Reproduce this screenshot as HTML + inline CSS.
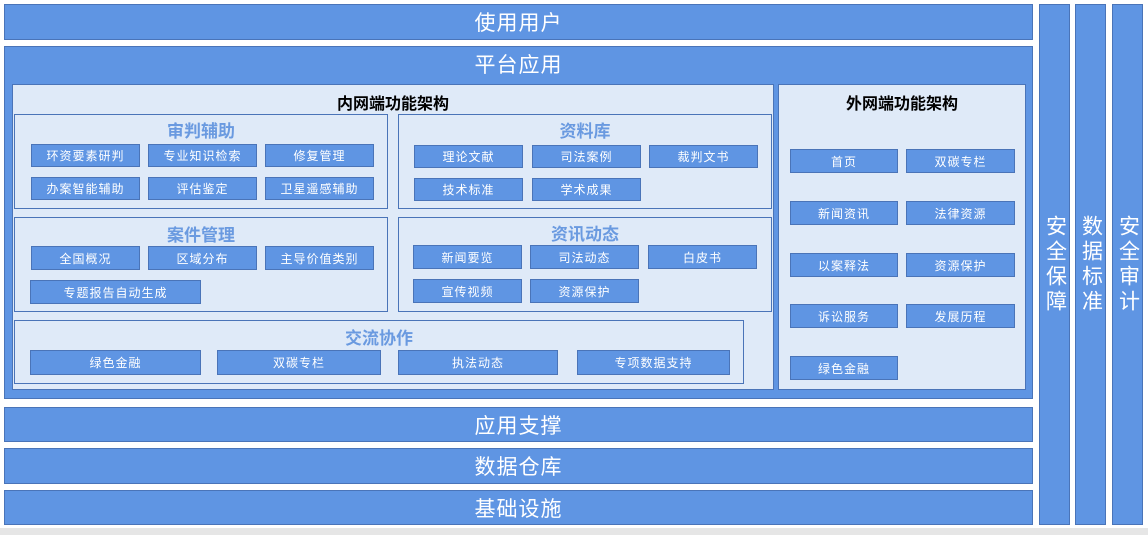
<!DOCTYPE html>
<html><head><meta charset="utf-8"><style>
*{margin:0;padding:0;box-sizing:border-box}
body{width:1148px;height:535px;background:#fff;position:relative;overflow:hidden;font-family:"Liberation Sans","Noto Sans CJK SC",sans-serif}
.a{position:absolute}
.bar{background:#5f95e3;border:1px solid #4a74b8;color:#fff;display:flex;align-items:center;justify-content:center;font-size:21px;letter-spacing:1px}
.pn{background:#dfeaf8;border:1px solid #4a74b8}
.sec{border:1px solid #4a74b8}
.t{position:absolute;left:0;right:0;text-align:center;color:#6a9ae0;font-size:17px;font-weight:bold}
.b{position:absolute;background:#5f95e3;border:1px solid #4a74b8;color:#fff;font-size:12px;display:flex;align-items:center;justify-content:center;letter-spacing:1px}
.h{position:absolute;left:0;right:0;text-align:center;color:#000;font-size:16px;font-weight:bold}
.v{writing-mode:vertical-rl;font-size:21px;letter-spacing:4px}
</style></head><body>
<div class="a" style="left:0;top:528px;width:1148px;height:7px;background:#e6e6e6"></div>
<div class="a bar" style="left:4px;top:4px;width:1029px;height:36px">使用用户</div>
<div class="a" style="left:4px;top:46px;width:1029px;height:353px;background:#5f95e3;border:1px solid #4a74b8"></div>
<div class="a" style="left:4px;top:49px;width:1029px;height:32px;color:#fff;font-size:21px;text-align:center;letter-spacing:1px">平台应用</div>
<div class="a pn" style="left:12px;top:84px;width:762px;height:306px"><div class="h" style="top:5px">内网端功能架构</div></div>
<div class="a pn" style="left:778px;top:84px;width:248px;height:306px"><div class="h" style="top:5px">外网端功能架构</div></div>

<div class="a sec" style="left:14px;top:114px;width:374px;height:95px"><div class="t" style="top:2px">审判辅助</div></div>
<div class="b" style="left:31px;top:144px;width:109px;height:23px">环资要素研判</div>
<div class="b" style="left:148px;top:144px;width:109px;height:23px">专业知识检索</div>
<div class="b" style="left:265px;top:144px;width:109px;height:23px">修复管理</div>
<div class="b" style="left:31px;top:177px;width:109px;height:23px">办案智能辅助</div>
<div class="b" style="left:148px;top:177px;width:109px;height:23px">评估鉴定</div>
<div class="b" style="left:265px;top:177px;width:109px;height:23px">卫星遥感辅助</div>

<div class="a sec" style="left:398px;top:114px;width:374px;height:95px"><div class="t" style="top:2px">资料库</div></div>
<div class="b" style="left:414px;top:145px;width:109px;height:23px">理论文献</div>
<div class="b" style="left:532px;top:145px;width:109px;height:23px">司法案例</div>
<div class="b" style="left:649px;top:145px;width:109px;height:23px">裁判文书</div>
<div class="b" style="left:414px;top:178px;width:109px;height:23px">技术标准</div>
<div class="b" style="left:532px;top:178px;width:109px;height:23px">学术成果</div>

<div class="a sec" style="left:14px;top:217px;width:374px;height:95px"><div class="t" style="top:3px">案件管理</div></div>
<div class="b" style="left:31px;top:246px;width:109px;height:24px">全国概况</div>
<div class="b" style="left:148px;top:246px;width:109px;height:24px">区域分布</div>
<div class="b" style="left:265px;top:246px;width:109px;height:24px">主导价值类别</div>
<div class="b" style="left:30px;top:280px;width:171px;height:24px">专题报告自动生成</div>

<div class="a sec" style="left:398px;top:217px;width:374px;height:95px"><div class="t" style="top:2px">资讯动态</div></div>
<div class="b" style="left:413px;top:245px;width:109px;height:24px">新闻要览</div>
<div class="b" style="left:530px;top:245px;width:109px;height:24px">司法动态</div>
<div class="b" style="left:648px;top:245px;width:109px;height:24px">白皮书</div>
<div class="b" style="left:413px;top:279px;width:109px;height:24px">宣传视频</div>
<div class="b" style="left:530px;top:279px;width:109px;height:24px">资源保护</div>

<div class="a sec" style="left:14px;top:320px;width:730px;height:64px"><div class="t" style="top:3px">交流协作</div></div>
<div class="b" style="left:30px;top:350px;width:171px;height:25px">绿色金融</div>
<div class="b" style="left:217px;top:350px;width:164px;height:25px">双碳专栏</div>
<div class="b" style="left:398px;top:350px;width:160px;height:25px">执法动态</div>
<div class="b" style="left:577px;top:350px;width:153px;height:25px">专项数据支持</div>

<div class="b" style="left:790px;top:149px;width:108px;height:24px">首页</div>
<div class="b" style="left:906px;top:149px;width:109px;height:24px">双碳专栏</div>
<div class="b" style="left:790px;top:201px;width:108px;height:24px">新闻资讯</div>
<div class="b" style="left:906px;top:201px;width:109px;height:24px">法律资源</div>
<div class="b" style="left:790px;top:253px;width:108px;height:24px">以案释法</div>
<div class="b" style="left:906px;top:253px;width:109px;height:24px">资源保护</div>
<div class="b" style="left:790px;top:304px;width:108px;height:24px">诉讼服务</div>
<div class="b" style="left:906px;top:304px;width:109px;height:24px">发展历程</div>
<div class="b" style="left:790px;top:356px;width:108px;height:24px">绿色金融</div>

<div class="a bar" style="left:4px;top:407px;width:1029px;height:35px">应用支撑</div>
<div class="a bar" style="left:4px;top:448px;width:1029px;height:36px">数据仓库</div>
<div class="a bar" style="left:4px;top:490px;width:1029px;height:35px">基础设施</div>

<div class="a bar v" style="left:1039px;top:4px;width:31px;height:521px">安全保障</div>
<div class="a bar v" style="left:1075px;top:4px;width:31px;height:521px">数据标准</div>
<div class="a bar v" style="left:1112px;top:4px;width:31px;height:521px">安全审计</div>
</body></html>
